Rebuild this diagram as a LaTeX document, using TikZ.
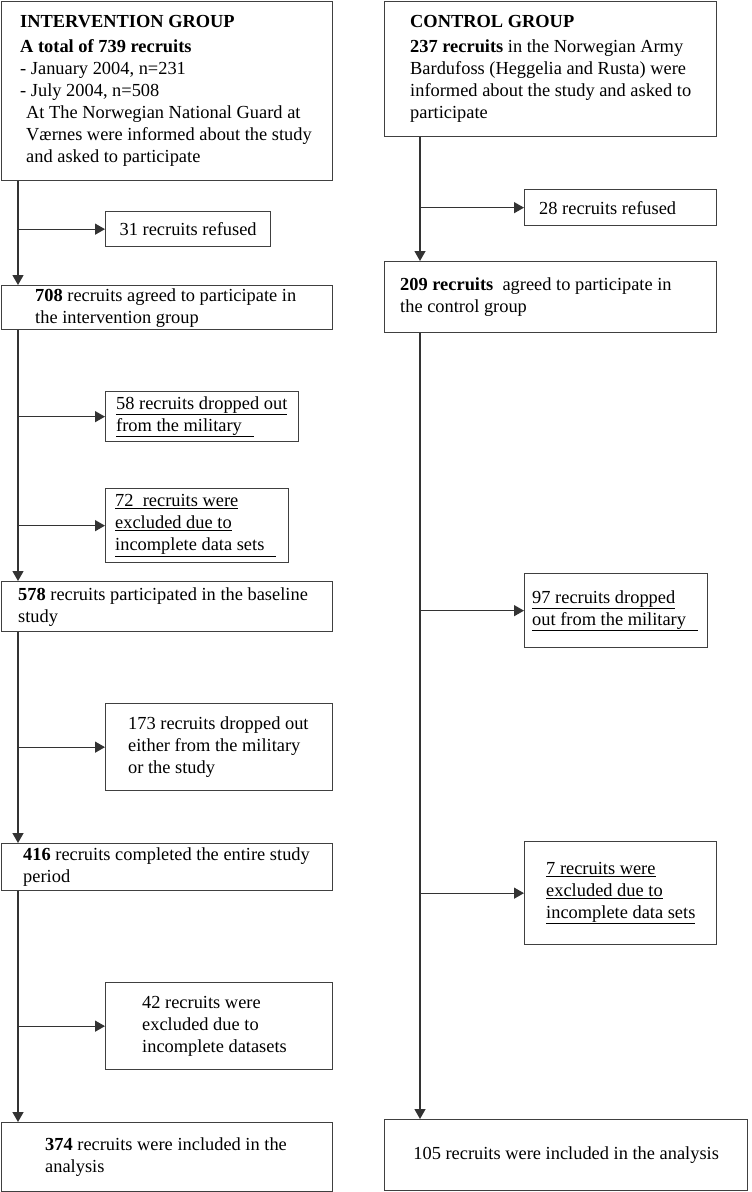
\documentclass[tikz,border=0pt]{standalone}
\usepackage{fontspec}
\setmainfont{Liberation Serif}
\usetikzlibrary{arrows.meta}
\tikzset{
  boxshape/.style={draw=black!75, line width=1.3pt, rectangle, anchor=north west, inner sep=0pt},
  txt/.style={anchor=west, align=left, inner sep=0pt, font=\fontsize{18.4}{22}\selectfont},
  ctxt/.style={align=center, inner sep=0pt, font=\fontsize{18.4}{22}\selectfont},
  conn/.style={draw=black!80, line width=1.3pt},
  arr/.style={conn, -{Triangle[length=10pt,width=11pt]}}
}
\newcommand{\ul}[1]{\underline{#1}}
\begin{document}
\begin{tikzpicture}[x=1pt,y=-1pt]
\useasboundingbox (0,0) rectangle (752,1192);
% ---------- left column ----------
\node[boxshape, minimum width=331pt, minimum height=179pt] (A) at (1,1) {};
\node[txt] (At) at ([xshift=19pt]A.west) {\textbf{INTERVENTION GROUP}\\[3pt]
\textbf{A total of 739 recruits}\\
- January 2004, n=231\\
- July 2004, n=508\\
\hspace*{6pt}At The Norwegian National Guard at\\
\hspace*{6pt}Værnes were informed about the study\\
\hspace*{6pt}and asked to participate};

\node[boxshape, minimum width=165pt, minimum height=35pt] (R31) at (105,211) {};
\node[ctxt] (R31t) at (R31.center) {31 recruits refused};

\node[boxshape, minimum width=331pt, minimum height=44pt] (B) at (1,285) {};
\node[txt] (Bt) at ([xshift=34pt]B.west) {\textbf{708} recruits agreed to participate in\\the intervention group};

\node[boxshape, minimum width=193pt, minimum height=50pt] (D) at (105,391) {};
\node[txt] (Dt) at ([xshift=11pt]D.west) {\ul{58 recruits dropped out}\\\ul{from the military\hspace{12pt}}};

\node[boxshape, minimum width=183pt, minimum height=74pt] (E) at (105,488) {};
\node[txt] (Et) at ([xshift=10pt]E.west) {\ul{72\ \ recruits were}\\\ul{excluded due to}\\\ul{incomplete data sets\hspace{12pt}}};

\node[boxshape, minimum width=331pt, minimum height=50pt] (F) at (1,581) {};
\node[txt] (Ft) at ([xshift=17pt]F.west) {\textbf{578} recruits participated in the baseline\\study};

\node[boxshape, minimum width=227pt, minimum height=87pt] (G) at (105,703) {};
\node[txt] (Gt) at ([xshift=23pt]G.west) {173 recruits dropped out\\either from the military\\or the study};

\node[boxshape, minimum width=331pt, minimum height=47pt] (H) at (1,843) {};
\node[txt] (Ht) at ([xshift=22pt]H.west) {\textbf{416} recruits completed the entire study\\period};

\node[boxshape, minimum width=227pt, minimum height=87pt] (I) at (105,982) {};
\node[txt] (It) at ([xshift=37pt]I.west) {42 recruits were\\excluded due to\\incomplete datasets};

\node[boxshape, minimum width=331pt, minimum height=69pt] (J) at (1,1122) {};
\node[txt] (Jt) at ([xshift=44pt]J.west) {\textbf{374} recruits were included in the\\analysis};

% ---------- right column ----------
\node[boxshape, minimum width=332pt, minimum height=135pt] (C) at (384,1) {};
\node[txt] (Ct) at ([xshift=26pt]C.west) {\textbf{CONTROL GROUP}\\[3pt]
\textbf{237 recruits} in the Norwegian Army\\
Bardufoss (Heggelia and Rusta) were\\
informed about the study and asked to\\
participate};

\node[boxshape, minimum width=192pt, minimum height=36pt] (R28) at (524,189) {};
\node[txt] (R28t) at ([xshift=15pt]R28.west) {28 recruits refused};

\node[boxshape, minimum width=332pt, minimum height=71pt] (K) at (384,261) {};
\node[txt] (Kt) at ([xshift=16pt]K.west) {\textbf{209 recruits}\ \ agreed to participate in\\the control group};

\node[boxshape, minimum width=183pt, minimum height=74pt] (L) at (524,573) {};
\node[txt] (Lt) at ([xshift=8pt]L.west) {\ul{97 recruits dropped}\\\ul{out from the military\hspace{12pt}}};

\node[boxshape, minimum width=192pt, minimum height=103pt] (M) at (524,841) {};
\node[txt] (Mt) at ([xshift=22pt]M.west) {\ul{7 recruits were}\\\ul{excluded due to}\\\ul{incomplete data sets}};

\node[boxshape, minimum width=363pt, minimum height=71pt] (N) at (384,1119) {};
\node[ctxt] (Nt) at (N.center) {105 recruits were included in the analysis};

% ---------- spine coordinates ----------
\coordinate (LX) at ([xshift=17pt]A.south west);
\coordinate (RX) at ([xshift=36pt]C.south west);

% ---------- left connectors ----------
\draw[arr] (LX) -- (B.north -| LX);
\draw[arr] (R31.west -| LX) -- (R31.west);
\draw[arr] (B.south -| LX) -- (F.north -| LX);
\draw[arr] (D.west -| LX) -- (D.west);
\draw[arr] (E.west -| LX) -- (E.west);
\draw[arr] (F.south -| LX) -- (H.north -| LX);
\draw[arr] (G.west -| LX) -- (G.west);
\draw[arr] (H.south -| LX) -- (J.north -| LX);
\draw[arr] (I.west -| LX) -- (I.west);

% ---------- right connectors ----------
\draw[arr] (RX) -- (K.north -| RX);
\draw[arr] (R28.west -| RX) -- (R28.west);
\draw[arr] (K.south -| RX) -- (N.north -| RX);
\draw[arr] (L.west -| RX) -- (L.west);
\draw[arr] (M.west -| RX) -- (M.west);
\end{tikzpicture}
\end{document}
